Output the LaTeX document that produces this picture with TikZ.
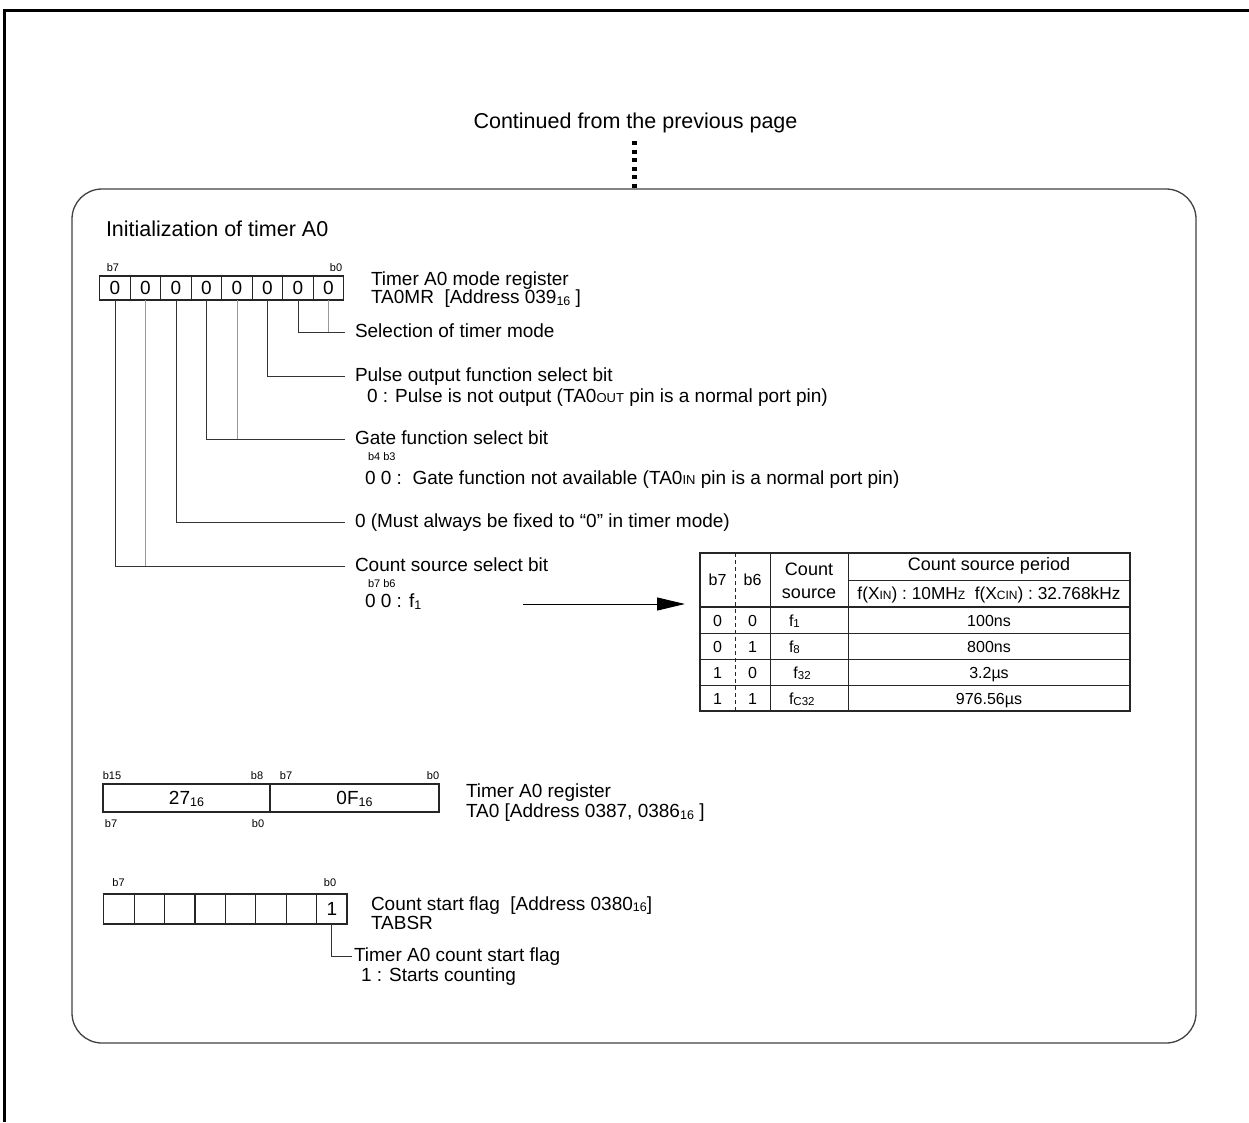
\documentclass[tikz,border=0pt]{standalone}
\usepackage{fontspec}
\setmainfont{Liberation Sans}
\usetikzlibrary{arrows.meta,calc}
\newcommand{\fhead}{\fontsize{21.5}{24}\selectfont}
\newcommand{\fbody}{\fontsize{19}{22}\selectfont}
\newcommand{\ftab}{\fontsize{18}{21}\selectfont}
\newcommand{\frow}{\fontsize{16}{19}\selectfont}
\newcommand{\fsub}{\fontsize{17.3}{20}\selectfont}
\newcommand{\fsmall}{\fontsize{11}{13}\selectfont}
\newcommand{\hexs}[2][12.5]{\raisebox{-1.5pt}{\fontsize{#1}{#1}\selectfont #2}}
\newcommand{\smc}[2][13]{{\fontsize{#1}{#1}\selectfont #2}}
\begin{document}
\begin{tikzpicture}[x=1pt,y=-1pt,
  every node/.style={inner sep=0pt,outer sep=0pt},
  txt/.style={anchor=base west,font=\fbody},
  desc/.style={anchor=base west,font=\fbody,inner xsep=10pt,text height=14pt,text depth=4pt},
  smalllab/.style={anchor=base,font=\fsmall},
  cell/.style={draw=black!85,line width=1.4pt,minimum width=30.5pt,minimum height=24pt,font=\fbody},
  fcell/.style={draw=black!85,line width=1.3pt,minimum width=30.4pt,minimum height=30pt,font=\fbody},
  conn/.style={draw=black!80,line width=1pt},
  connl/.style={draw=black!40,line width=1pt},
  tabtxt/.style={anchor=base,font=\ftab},
  rowtxt/.style={anchor=base,font=\frow}]
\useasboundingbox (0,0) rectangle (1249,1122);
% page frame
\draw[line width=3pt] (4,1122) -- (4,10) -- (1249,10);
% continued text and frame
\node[anchor=base,font=\fhead] (cont) at (635.5,128.5) {Continued from the previous page};
\node[draw=black!75,line width=1.3pt,rounded corners=30pt,minimum width=1124pt,minimum height=854pt,anchor=north west] (frame) at (72,189) {};
\coordinate (dotTop) at (634,141);
\draw[line width=5pt,dash pattern=on 4pt off 4.5pt] (dotTop) -- (dotTop |- frame.north);
\node[txt,font=\fhead] (init) at (106,236.5) {Initialization of timer A0};
% mode register
\foreach \i in {0,...,7}{
  \node[cell] (m\i) at ({328.5-30.5*\i},288) {0};
}
\node[smalllab] (mb7) at (113,271) {b7};
\node[smalllab] (mb0) at (336,271) {b0};
\node[txt] (mrT) at (371,285.5) {Timer A0 mode register};
\node[txt] (mrA) at (371,303.5) {TA0MR\ \ [Address 039\hexs{16} ]};
% descriptions
\node[desc] (sel) at (345,337.5) {Selection of timer mode};
\node[desc] (pulse) at (345,381.5) {Pulse output function select bit};
\node[txt] (pulse2) at (367,402.5) {0 : Pulse is not output (TA0\smc{OUT} pin is a normal port pin)};
\node[desc] (gate) at (345,444.5) {Gate function select bit};
\node[smalllab,anchor=base west] (gateb) at (368,460) {b4 b3};
\node[txt] (gate2) at (365,484.5) {0 0 :\ \ Gate function not available (TA0\smc{IN} pin is a normal port pin)};
\node[desc] (must) at (345,527.5) {0 (Must always be fixed to “0” in timer mode)};
\node[desc] (cnt) at (345,571.5) {Count source select bit};
\node[smalllab,anchor=base west] (cntb) at (368,587) {b7 b6};
\node[txt] (cnt2) at (365,607.5) {0 0 : f\hexs{1}};
% connectors
\draw[connl] (m0.south) -- (m0.south |- sel.west);
\draw[conn] (m1.south) |- (sel.west);
\draw[conn] (m2.south) |- (pulse.west);
\draw[connl] (m3.south) -- (m3.south |- gate.west);
\draw[conn] (m4.south) |- (gate.west);
\draw[conn] (m5.south) |- (must.west);
\draw[connl] (m6.south) -- (m6.south |- cnt.west);
\draw[conn] (m7.south) |- (cnt.west);
% table
\node[draw=black!85,line width=1.8pt,minimum width=430pt,minimum height=158pt,anchor=north west] (tab) at (700,553) {};
\draw[black!85,line width=1pt,dash pattern=on 4pt off 3pt] (735,553) -- (735,711);
\draw[black!85,line width=1pt] (770,553) -- (770,711);
\draw[black!85,line width=1pt] (848,553) -- (848,711);
\draw[black!85,line width=1pt] (848,580) -- (1130,580);
\draw[black!85,line width=1.6pt] (700,607) -- (1130,607);
\foreach \yy in {633,659,685}{\draw[black!85,line width=1pt] (700,\yy) -- (1130,\yy);}
\node[tabtxt,font=\frow] (hb7) at (717.5,585) {b7};
\node[tabtxt,font=\frow] (hb6) at (752.5,585) {b6};
\node[tabtxt] (hc1) at (809,575) {Count};
\node[tabtxt] (hc2) at (809,598) {source};
\node[tabtxt] (hp) at (989,570) {Count source period};
\node[anchor=base,font=\fsub] (hf) at (989,599) {f(X\smc[12]{IN}) : 10MH\smc[12]{Z}\ \ f(X\smc[12]{CIN}) : 32.768kHz};
\foreach \a/\b/\src/\per/\yy in {0/0/{f\hexs[11.5]{1}}/100ns/626,0/1/{f\hexs[11.5]{8}}/800ns/652,1/0/{\ f\hexs[11.5]{32}}/3.2µs/678,1/1/{f\hexs[11.5]{C32}}/976.56µs/704}{
  \node[rowtxt] at (717.5,\yy) {\a};
  \node[rowtxt] at (752.5,\yy) {\b};
  \node[rowtxt,anchor=base west] at (789,\yy) {\src};
  \node[rowtxt] at (989,\yy) {\per};
}
\coordinate (arrS) at (523,604);
\coordinate (arrE) at (685,604);
\draw[line width=1pt,-{Triangle[length=28pt,width=13pt]}] (arrS) -- (arrE);
% timer A0 register
\node[draw=black!85,line width=1.3pt,minimum width=167pt,minimum height=28pt,anchor=north west] (ra) at (103,784) {};
\node[draw=black!85,line width=1.3pt,minimum width=169pt,minimum height=28pt,anchor=north west] (rb) at (270,784) {};
\node[anchor=base,font=\fbody] (v1) at (186.5,804.5) {27\hexs{16}};
\node[anchor=base,font=\fbody] (v2) at (354.5,804.5) {0F\hexs{16}};
\node[smalllab] at (112,779) {b15};
\node[smalllab] at (257,779) {b8};
\node[smalllab] at (286,779) {b7};
\node[smalllab] at (433,779) {b0};
\node[smalllab] at (111,827) {b7};
\node[smalllab] at (258,827) {b0};
\node[txt] (raT) at (466,797) {Timer A0 register};
\node[txt] (raA) at (466,817.5) {TA0 [Address 0387, 0386\hexs{16} ]};
% count start flag
\foreach \i in {0,...,7}{
  \node[fcell] (f\i) at ({331.8-30.4*\i},909) {};
}
\node[font=\fbody] (one) at (f0.center) {1};
\node[smalllab] at (118.5,886) {b7};
\node[smalllab] at (330,886) {b0};
\node[txt] (fT) at (371,910) {Count start flag\ \ [Address 0380\hexs{16}]};
\node[txt] (fA) at (371,929.5) {TABSR};
\node[desc,inner xsep=2pt] (fs) at (352,961) {Timer A0 count start flag};
\node[txt] (fs2) at (361,981) {1 : Starts counting};
\draw[conn] (f0.south) |- (fs.west);
\end{tikzpicture}
\end{document}
